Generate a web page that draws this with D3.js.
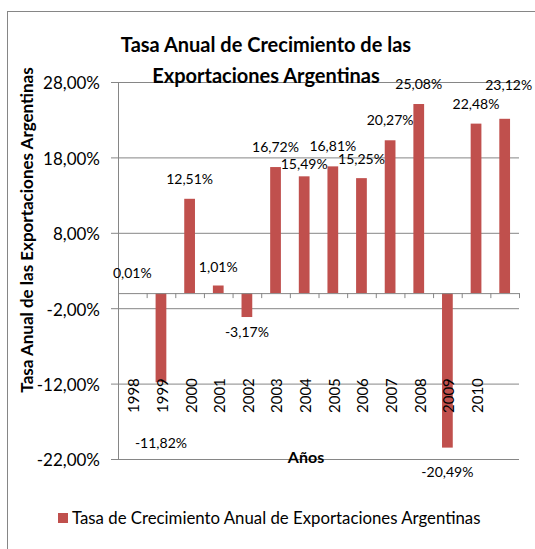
<!DOCTYPE html>
<html><head><meta charset="utf-8">
<script src="https://cdn.jsdelivr.net/npm/d3@7"></script>
<style>
body{margin:0;background:#fff}
text{font-family:Lato,"Open Sans",sans-serif;fill:#000}
</style>
</head><body>
<svg id="c" width="535" height="549"></svg>
<script>
// ---- data ----
const years = ["1998","1999","2000","2001","2002","2003","2004","2005","2006","2007","2008","2009","2010",""];
const growth = [0.01,-11.82,12.51,1.01,-3.17,16.72,15.49,16.81,15.25,20.27,25.08,-20.49,22.48,23.12];
const yTicks = [-22,-12,-2,8,18,28];
const titleLines = ["Tasa Anual de Crecimiento de las","Exportaciones Argentinas"];
const yTitle = "Tasa Anual de las Exportaciones Argentinas";
const xTitle = "Años";
const seriesName = "Tasa de Crecimiento Anual de Exportaciones Argentinas";

// ---- layout ----
const L = 118, R = 519, T = 82, B = 459;
const barColor = "#C0504D", gridColor = "#868686";
// per-label nudges [dx, dy] (index -> px), mimicking the original label placement
const labelNudge = {1:[0,44], 3:[0,1.5], 4:[0,-2], 6:[0,8], 8:[0,1], 11:[0,7], 13:[4,-14]};

const loc = d3.formatLocale({decimal:",", thousands:".", grouping:[3], currency:["","€"], minus:"-"});
const f2 = loc.format(".2f");
const pct = v => f2(v) + "%";

const svg = d3.select("#c");

// outer chart border
svg.append("rect").attr("x",7.5).attr("y",11.5).attr("width",600).attr("height",600)
  .attr("fill","none").attr("stroke",gridColor).attr("stroke-width",1);

const x = d3.scaleBand().domain(d3.range(years.length)).range([L,R]).paddingInner(0.625).paddingOuter(0.3125);
const xb = d3.scaleLinear().domain([0,years.length]).range([L,R]);
const y = d3.scaleLinear().domain([-22,28]).range([B,T]);

// gridlines
svg.append("g").attr("transform",`translate(${L},0)`)
  .call(d3.axisRight(y).tickValues(yTicks).tickSize(R-L).tickFormat(""))
  .call(g=>g.select(".domain").remove())
  .call(g=>g.selectAll("line").attr("stroke",gridColor));

// y axis
svg.append("g").attr("transform",`translate(${L},0)`)
  .call(d3.axisLeft(y).tickValues(yTicks).tickSize(7).tickSizeOuter(0).tickPadding(11).tickFormat(pct))
  .call(g=>g.select(".domain").attr("stroke",gridColor))
  .call(g=>g.selectAll("line").attr("stroke",gridColor))
  .call(g=>g.selectAll("text").attr("font-size",17).attr("font-family","Lato").attr("fill","#000").attr("dy","0.4em"));

// bars
svg.append("g").selectAll("rect").data(growth).join("rect")
  .attr("x",(d,i)=>x(i)).attr("width",x.bandwidth())
  .attr("y",d=>y(Math.max(0,d))).attr("height",d=>Math.abs(y(d)-y(0)))
  .attr("fill",barColor);

// category (zero) axis
svg.append("g").attr("transform",`translate(0,${y(0)})`)
  .call(d3.axisBottom(xb).tickValues(d3.range(years.length+1)).tickSize(5).tickSizeOuter(0).tickFormat(""))
  .call(g=>g.select(".domain").attr("stroke",gridColor))
  .call(g=>g.selectAll("line").attr("stroke",gridColor));

// category labels (rotated)
svg.append("g").selectAll("text").data(years).join("text")
  .attr("transform",(d,i)=>`translate(${x(i)+x.bandwidth()/2+1.5},413) rotate(-90)`)
  .attr("dy","0.36em").attr("font-size",15).text(d=>d);

// data labels
svg.append("g").selectAll("text").data(growth).join("text")
  .attr("x",(d,i)=>x(i)+x.bandwidth()/2+((labelNudge[i]||[0,0])[0]))
  .attr("y",(d,i)=>(d>=0 ? y(d)-20 : y(d)+17)+((labelNudge[i]||[0,0])[1]))
  .attr("text-anchor","middle").attr("dy","0.36em").attr("font-size",14)
  .text(d=>pct(d));

// titles
svg.append("text").attr("x",266).attr("y",52).attr("text-anchor","middle")
  .attr("font-size",20).attr("font-weight","bold").text(titleLines[0]);
svg.append("text").attr("x",266).attr("y",83).attr("text-anchor","middle")
  .attr("font-size",20).attr("font-weight","bold").text(titleLines[1]);

svg.append("text").attr("transform","translate(33,230) rotate(-90)").attr("text-anchor","middle")
  .attr("font-size",17).attr("font-weight","bold").text(yTitle);

svg.append("text").attr("x",306).attr("y",463).attr("text-anchor","middle")
  .attr("font-size",16).attr("font-weight","bold").text(xTitle);

// legend
svg.append("rect").attr("x",58).attr("y",513).attr("width",10).attr("height",10).attr("fill",barColor);
svg.append("text").attr("x",72).attr("y",524).attr("font-size",16.8).text(seriesName);
</script>
</body></html>
